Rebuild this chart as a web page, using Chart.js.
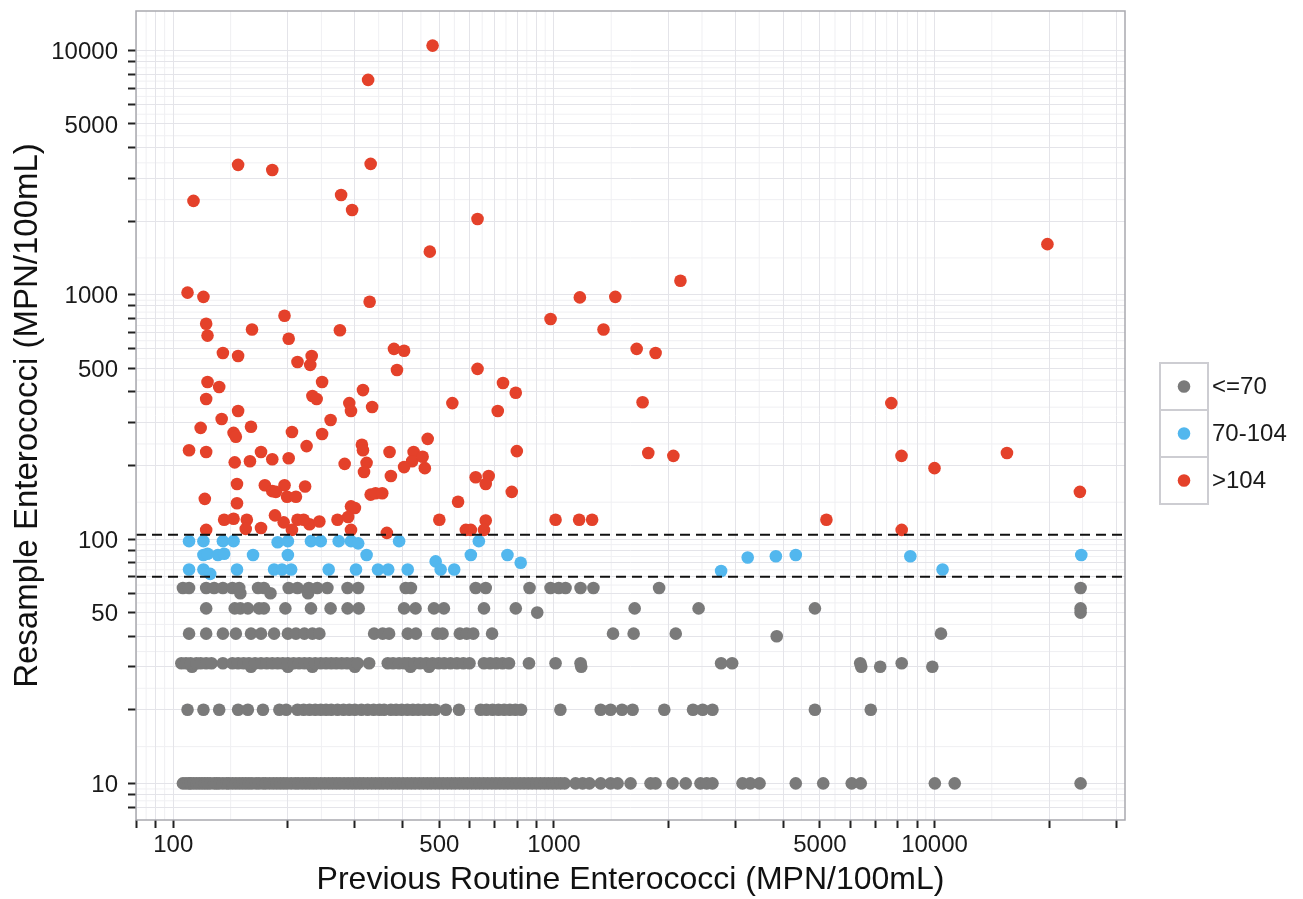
<!DOCTYPE html>
<html>
<head>
<meta charset="utf-8">
<script src="https://cdn.jsdelivr.net/npm/chart.js@4.4.1/dist/chart.umd.min.js"></script>
<style>
    html, body { margin: 0; padding: 0; background: #fff; }
</style>
</head>
<body>
<canvas id="myChart" width="1303" height="899"></canvas>
<script>
var FONT = '"Liberation Sans", Arial, Helvetica, sans-serif';

// axis ticks (log breaks) and which of them carry a label
var xTicks = [80, 90, 100, 200, 300, 400, 500, 600, 700, 800, 900, 1000, 2000, 3000, 4000, 5000, 6000, 7000, 8000, 9000, 10000, 20000, 30000];
var xLabels = [100, 500, 1000, 5000, 10000];
var yTicks = [8, 9, 10, 20, 30, 40, 50, 60, 70, 80, 90, 100, 200, 300, 400, 500, 600, 700, 800, 900, 1000, 2000, 3000, 4000, 5000, 6000, 7000, 8000, 9000, 10000];
var yLabels = [10, 50, 100, 500, 1000, 5000, 10000];
var cutLines = [104, 70];

// <=70 : previous routine values for each resample MPN level
var gray10 = [106, 108, 110, 111, 113, 115, 117, 119, 121, 123, 125, 128, 130, 132, 135, 138, 140, 143, 146, 149, 152, 155, 158, 161, 165, 168, 172, 175, 179, 183, 187, 191, 195, 199, 204, 209, 213, 218, 223, 228, 233, 238, 244, 250, 256, 262, 268, 274, 281, 288, 295, 302, 309, 316, 324, 332, 340, 348, 356, 365, 374, 383, 392, 402, 412, 422, 432, 443, 454, 465, 476, 488, 500, 512, 525, 538, 551, 565, 579, 593, 608, 623, 638, 654, 670, 687, 704, 721, 739, 757, 776, 795, 815, 835, 856, 877, 899, 921, 944, 967, 991, 1016, 1041, 1067,
    1140, 1190, 1240, 1327, 1409, 1470, 1590, 1794, 1850, 2050, 2220, 2427, 2520, 2610, 3130, 3280, 3470, 4320, 5100, 6060, 6400, 10020, 11300, 24200];
var gray20 = [109, 120, 132, 148, 157, 172, 190, 198, 212, 220, 228, 236, 244, 252, 260, 270, 280, 290, 300, 312, 324, 336, 348, 358, 373, 385, 398, 412, 426, 440, 456, 472, 488, 520, 563, 642, 665, 690, 715, 740, 766, 792, 820, 1040, 1327, 1409, 1510, 1610, 1950, 2320, 2460, 2610, 4850, 6800];
var gray30 = [112, 160, 200, 232, 300, 420, 470, 1180, 6420, 7200, 9870];
var gray31 = [105, 108, 111, 115, 118, 122, 126, 135, 143, 148, 153, 158, 164, 170, 176, 182, 188, 194, 200, 207, 214, 221, 228, 236, 244, 252, 260, 268, 277, 286, 296, 305, 327, 366, 378, 392, 405, 415, 430, 445, 462, 480, 498, 515, 535, 556, 578, 600, 655, 680, 706, 733, 762, 860, 1010, 1175, 2750, 2940, 6380, 8200];
var gray40 = [3850];
var gray41 = [110, 122, 135, 146, 160, 170, 184, 200, 210, 221, 232, 242, 337, 355, 369, 413, 434, 494, 510, 566, 590, 614, 688, 1430, 1620, 2090, 10400];
var gray50 = [904, 24200];
var gray52 = [122, 145, 150, 157, 168, 173, 197, 230, 259, 287, 307, 404, 433, 484, 514, 655, 794, 1630, 2400, 4850, 24200];
var gray60 = [150, 180, 226];
var gray63 = [106, 110, 122, 128, 135, 143, 149, 167, 173, 201, 212, 227, 239, 254, 287, 306, 408, 421, 623, 662, 863, 980, 1030, 1073, 1175, 1270, 1890, 24200];

// 70-104
var blueX = [110, 120, 135, 144, 120, 123, 131, 136, 162, 188, 200, 200, 230, 244, 272, 293, 306, 322, 392, 489, 605, 635, 755, 818,
    110, 120, 125, 147, 184, 193, 204, 256, 302, 345, 367, 413, 504, 547, 2750, 3230, 3830, 4320, 8640, 10500, 24300];
var blueY = [98, 98, 98, 98, 86, 87, 86, 87, 86, 97, 98, 86, 98, 98, 98, 98, 96, 86, 98, 81, 86, 98, 86, 80,
    75, 75, 72, 75, 75, 75, 75, 75, 75, 75, 75, 75, 75, 75, 74, 84, 85, 86, 85, 75, 86];

// >104
var redX = [480, 325, 148, 182, 330, 113, 276, 295, 630, 472, 19800, 2150, 109, 120, 1170, 1450, 196, 328, 980, 122,
    123, 201, 161, 274, 1350, 135, 148, 380, 404, 1650, 1850, 212, 231, 229, 387, 630, 123, 132, 246, 735,
    315, 122, 232, 238, 541, 794, 7700, 1710, 290, 148, 333, 293, 712, 134, 259, 118, 144, 160, 205, 246,
    146, 313, 466, 110, 170, 224, 315, 370, 428, 424, 122, 145, 159, 182, 201, 322, 404, 458, 452, 282,
    623, 674, 799, 1770, 2060, 8190, 15500, 10000, 147, 174, 182, 196, 199, 210, 222, 317, 330, 340, 354, 373,
    121, 147, 186, 662, 775, 24100, 560, 293, 136, 144, 156, 185, 155, 122, 170, 195, 212, 228, 242, 270,
    288, 300, 205, 220, 364, 500, 587, 605, 662, 655, 293, 1010, 1165, 1260, 5200, 8200];
var redY = [10460, 7570, 3400, 3240, 3430, 2420, 2560, 2220, 2040, 1500, 1610, 1140, 1020, 980, 975, 980, 820, 935, 795, 760,
    680, 660, 720, 715, 720, 577, 561, 600, 590, 600, 577, 530, 561, 516, 492, 497, 439, 419, 439, 435,
    407, 374, 385, 374, 360, 397, 360, 363, 360, 334, 347, 334, 334, 310, 307, 285, 272, 288, 274, 269,
    262, 243, 257, 231, 227, 240, 231, 227, 227, 208, 227, 206, 208, 212, 214, 205, 197, 195, 217, 203,
    179, 181, 229, 225, 219, 219, 225, 195, 168, 166, 157, 166, 149, 149, 164, 188, 152, 154, 154, 181,
    146, 140, 156, 168, 156, 156, 142, 136, 120, 121, 120, 125, 110, 109, 111, 117, 120, 115, 118, 120,
    123, 134, 109, 120, 106, 120, 109, 109, 119, 109, 109, 120, 120, 120, 120, 109];

function row(xs, y) {
    return xs.map(function (x) { return {x: x, y: y}; });
}

function pairs(xs, ys) {
    return xs.map(function (x, i) { return {x: x, y: ys[i]}; });
}

var grayPoints = [].concat(row(gray10, 10), row(gray20, 20), row(gray30, 30), row(gray31, 31), row(gray40, 40),
    row(gray41, 41), row(gray50, 50), row(gray52, 52), row(gray60, 60), row(gray63, 63));

var panelPlugin = {
    id: 'panel',
    beforeDraw: function (chart) {
        var ctx = chart.ctx, a = chart.chartArea;
        ctx.save();
        ctx.fillStyle = '#ffffff';
        ctx.fillRect(0, 0, chart.width, chart.height);
        // minor grid lines half way between breaks (log space)
        ctx.strokeStyle = '#f0f0f3';
        ctx.lineWidth = 1;
        var xs = chart.scales.x, ys = chart.scales.y;
        for (var i = 0; i < xTicks.length - 1; i++) {
            var px = (xs.getPixelForValue(xTicks[i]) + xs.getPixelForValue(xTicks[i + 1])) / 2;
            ctx.beginPath(); ctx.moveTo(px, a.top); ctx.lineTo(px, a.bottom); ctx.stroke();
        }
        for (var j = 0; j < yTicks.length - 1; j++) {
            var py = (ys.getPixelForValue(yTicks[j]) + ys.getPixelForValue(yTicks[j + 1])) / 2;
            ctx.beginPath(); ctx.moveTo(a.left, py); ctx.lineTo(a.right, py); ctx.stroke();
        }
        ctx.restore();
    },
    afterDatasetsDraw: function (chart) {
        var ctx = chart.ctx, a = chart.chartArea;
        ctx.save();
        ctx.strokeStyle = '#111111';
        ctx.lineWidth = 2;
        ctx.setLineDash([10, 6]);
        cutLines.forEach(function (v) {
            var py = chart.scales.y.getPixelForValue(v);
            ctx.beginPath(); ctx.moveTo(a.left, py); ctx.lineTo(a.right, py); ctx.stroke();
        });
        ctx.restore();
    },
    afterDraw: function (chart) {
        var ctx = chart.ctx, a = chart.chartArea;
        ctx.save();
        ctx.strokeStyle = '#a9a9af';
        ctx.lineWidth = 1.5;
        ctx.strokeRect(a.left, a.top, a.right - a.left, a.bottom - a.top);

        // legend with boxed keys
        var lx = 1160, ly = 363, kw = 48, kh = 47;
        ctx.strokeStyle = '#cdcdd2';
        ctx.lineWidth = 2;
        chart.data.datasets.forEach(function (ds, i) {
            var top = ly + i * kh;
            ctx.strokeRect(lx, top, kw, kh);
            ctx.fillStyle = ds.backgroundColor;
            ctx.beginPath();
            ctx.arc(lx + kw / 2, top + kh / 2, 6.3, 0, Math.PI * 2);
            ctx.fill();
            ctx.fillStyle = '#1a1a1a';
            ctx.font = '24px ' + FONT;
            ctx.textAlign = 'left';
            ctx.textBaseline = 'middle';
            ctx.fillText(ds.label, lx + kw + 4, top + kh / 2 + 1);
        });
        ctx.restore();
    }
};

function drawChart() {
    var ctx = document.getElementById('myChart').getContext('2d');
    var myChart = new Chart(ctx, {
        type: 'scatter',
        data: {
            datasets: [
                { label: '<=70', data: grayPoints, backgroundColor: '#7a7a7a' },
                { label: '70-104', data: pairs(blueX, blueY), backgroundColor: '#52b7ee' },
                { label: '>104', data: pairs(redX, redY), backgroundColor: '#e4412a' }
            ]
        },
        options: {
            responsive: false,
            animation: false,
            layout: { autoPadding: false, padding: { left: 0, top: 11, right: 178, bottom: 0 } },
            elements: { point: { radius: 6.3, hoverRadius: 6.3, borderWidth: 0 } },
            plugins: { legend: { display: false }, tooltip: { enabled: false } },
            scales: {
                x: {
                    type: 'logarithmic',
                    min: 79.8,
                    max: 31660,
                    bounds: 'data',
                    afterBuildTicks: function (s) { s.ticks = xTicks.map(function (v) { return {value: v}; }); },
                    afterFit: function (s) { s.height = 79; s.paddingLeft = 0; s.paddingRight = 0; },
                    border: { display: false },
                    grid: { color: '#e4e4e9', lineWidth: 1, tickColor: '#222', tickLength: 8, tickWidth: 2 },
                    ticks: {
                        autoSkip: false, maxRotation: 0, padding: 3, color: '#1a1a1a',
                        font: { family: FONT, size: 24 },
                        callback: function (v) { return xLabels.indexOf(v) >= 0 ? String(v) : ''; }
                    },
                    title: {
                        display: true, text: 'Previous Routine Enterococci (MPN/100mL)', color: '#111',
                        font: { family: FONT, size: 32, lineHeight: 1.1 }, padding: { top: 0, bottom: 1 }
                    }
                },
                y: {
                    type: 'logarithmic',
                    min: 7.08,
                    max: 14490,
                    bounds: 'data',
                    afterBuildTicks: function (s) { s.ticks = yTicks.map(function (v) { return {value: v}; }); },
                    afterFit: function (s) { s.width = 136; s.paddingTop = 0; s.paddingBottom = 0; },
                    border: { display: false },
                    grid: { color: '#e4e4e9', lineWidth: 1, tickColor: '#222', tickLength: 8, tickWidth: 2 },
                    ticks: {
                        autoSkip: false, padding: 10, labelOffset: 2, color: '#1a1a1a',
                        font: { family: FONT, size: 24 },
                        callback: function (v) { return yLabels.indexOf(v) >= 0 ? String(v) : ''; }
                    },
                    title: {
                        display: true, text: 'Resample Enterococci (MPN/100mL)', color: '#111',
                        font: { family: FONT, size: 33, lineHeight: 1.1 }, padding: { top: 10, bottom: 0 }
                    }
                }
            }
        },
        plugins: [panelPlugin]
    });
}

window.onload = function () {
    drawChart();
}
</script>
</body>
</html>
